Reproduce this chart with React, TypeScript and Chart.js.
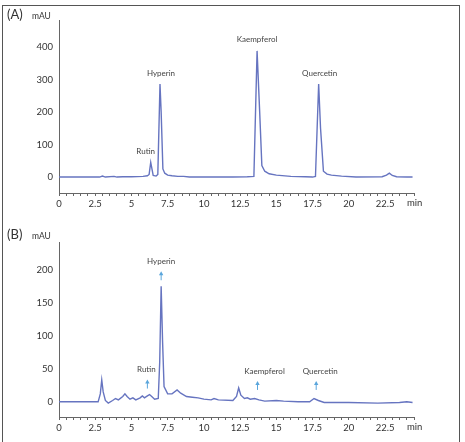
import React, { useEffect, useRef } from "react";
import { Chart, registerables } from "chart.js";
Chart.register(...registerables);

// ---- Data (retention time in min, absorbance in mAU) ----
const timesA = [0, 2.8, 3.0, 3.2, 3.8, 4.0, 4.4, 5.0, 5.8, 6.1, 6.22, 6.33, 6.5, 6.7, 6.82, 6.97, 7.05, 7.17, 7.3, 7.5, 7.8, 8.2, 8.6, 9.0, 10.0, 12.0, 13.0, 13.45, 13.67, 13.85, 14.0, 14.2, 14.5, 15.0, 16.0, 17.0, 17.5, 17.7, 17.92, 18.05, 18.25, 18.5, 18.8, 19.5, 20.5, 22.3, 22.6, 22.8, 23.0, 23.3, 24.0, 24.4];
const signalA = [0, 0, 3, 0, 2, 0, 1, 1, 2, 4, 8, 45, 5, 3, 8, 286, 200, 25, 12, 6, 4, 2, 2, 0, 0, 0, 1, 2, 388, 200, 35, 18, 10, 6, 2, 1, 0, 2, 286, 150, 18, 9, 6, 3, 0, 1, 6, 12, 5, 1, 0, 0];

const timesB = [0, 2.7, 2.85, 2.95, 3.05, 3.2, 3.4, 3.7, 3.9, 4.1, 4.4, 4.55, 4.7, 4.9, 5.1, 5.3, 5.6, 5.75, 5.9, 6.1, 6.25, 6.4, 6.6, 6.85, 6.95, 7.05, 7.15, 7.25, 7.5, 7.8, 8.15, 8.4, 8.8, 9.2, 9.6, 10.0, 10.5, 10.7, 11.0, 12.0, 12.25, 12.4, 12.55, 12.8, 13.0, 13.2, 13.5, 13.8, 14.2, 15.0, 15.5, 16.5, 17.3, 17.6, 17.9, 18.3, 20.0, 22.0, 23.5, 24.0, 24.4];
const signalB = [0, 0, 12, 33, 15, 2, -2, 2, 5, 3, 8, 12, 8, 4, 6, 3, 6, 9, 6, 9, 11, 8, 4, 5, 60, 175, 90, 23, 12, 12, 18, 13, 8, 7, 6, 4, 3, 5, 3, 2, 8, 21, 10, 5, 6, 4, 5, 3, 1, 2, 1, 0, 0, 5, 2, -1, -1, -2, -1, 0, -1];

const peakNames = ["Rutin", "Hyperin", "Kaempferol", "Quercetin"];
const peakTimesA = [6.33, 6.97, 13.67, 17.92];
const peakTimesB = [6.1, 7.05, 13.7, 17.75];

const xMajorTicks = [0, 2.5, 5, 7.5, 10, 12.5, 15, 17.5, 20, 22.5];
const yTicksA = [0, 100, 200, 300, 400];
const yTicksB = [0, 50, 100, 150, 200];

const FONT = "Lato, 'Open Sans', sans-serif";
const LINE = "#6674c0";
const ARROW = "#5aa6dc";
const TEXT = "#333";

type PanelProps = {
  top: number;
  height: number;
  padTop: number;
  xAxisHeight: number;
  times: number[];
  signal: number[];
  yMin: number;
  yMax: number;
  yTicks: number[];
  panelLabel: string;
  peakTimes: number[];
  arrows: boolean;
  labelShift: number[];
};

function peakValue(times: number[], signal: number[], t: number) {
  let m = -Infinity;
  times.forEach((x, i) => {
    if (Math.abs(x - t) <= 0.2 && signal[i] > m) m = signal[i];
  });
  return m;
}

function Panel(p: PanelProps) {
  const ref = useRef<HTMLCanvasElement | null>(null);
  useEffect(() => {
    const canvas = ref.current!;
    const annot = {
      id: "annot",
      afterDatasetsDraw(chart: any) {
        const ctx = chart.ctx;
        const xs = chart.scales.x;
        const ys = chart.scales.y;
        const area = chart.chartArea;
        ctx.save();
        ctx.fillStyle = TEXT;
        ctx.textBaseline = "middle";
        ctx.textAlign = "left";
        ctx.font = `13px ${FONT}`;
        ctx.fillText(p.panelLabel, 7, 15);
        ctx.font = `8.5px ${FONT}`;
        ctx.fillText("mAU", 32, 16);
        ctx.font = `9.5px ${FONT}`;
        ctx.fillText("min", area.right - 7, area.bottom + 10);
        ctx.font = `8px ${FONT}`;
        ctx.textAlign = "center";
        p.peakTimes.forEach((t, i) => {
          const px = xs.getPixelForValue(t);
          const pv = peakValue(p.times, p.signal, t);
          const py = ys.getPixelForValue(pv);
          if (!p.arrows) {
            ctx.fillStyle = "#444";
            ctx.fillText(peakNames[i], px + p.labelShift[i], py - 11);
          } else {
            const bottom = Math.min(py - 6, ys.getPixelForValue(18));
            const tip = bottom - 9;
            ctx.strokeStyle = ARROW;
            ctx.lineWidth = 1;
            ctx.beginPath();
            ctx.moveTo(px, bottom);
            ctx.lineTo(px, tip + 3);
            ctx.stroke();
            ctx.fillStyle = ARROW;
            ctx.beginPath();
            ctx.moveTo(px, tip);
            ctx.lineTo(px - 2.2, tip + 4);
            ctx.lineTo(px + 2.2, tip + 4);
            ctx.closePath();
            ctx.fill();
            ctx.fillStyle = "#444";
            ctx.fillText(peakNames[i], px + p.labelShift[i], tip - 10);
          }
        });
        ctx.restore();
      },
    };
    const chart = new Chart(canvas, {
      type: "line",
      data: {
        datasets: [
          {
            data: p.times.map((t, i) => ({ x: t, y: p.signal[i] })),
            borderColor: LINE,
            borderWidth: 1.4,
            pointRadius: 0,
            tension: 0,
            fill: false,
          },
        ],
      },
      options: {
        animation: false,
        responsive: false,
        devicePixelRatio: 1,
        layout: { padding: { left: 0, right: 51, top: p.padTop, bottom: 0 } },
        plugins: { legend: { display: false }, tooltip: { enabled: false } },
        scales: {
          x: {
            type: "linear",
            min: 0,
            max: 24.5,
            afterBuildTicks: (s: any) => {
              const arr = [];
              for (let k = 0; k <= 49; k++) arr.push({ value: k * 0.5 });
              s.ticks = arr;
            },
            afterFit: (s: any) => {
              s.height = p.xAxisHeight;
            },
            ticks: {
              autoSkip: false,
              maxRotation: 0,
              padding: 2,
              color: TEXT,
              font: { family: FONT, size: 9.5 },
              callback: (v: any) => (xMajorTicks.includes(Number(v)) ? String(v) : ""),
            },
            grid: { drawOnChartArea: false, drawTicks: true, tickLength: 3, color: "#666" },
            border: { color: "#666", width: 1 },
          },
          y: {
            type: "linear",
            min: p.yMin,
            max: p.yMax,
            afterBuildTicks: (s: any) => {
              s.ticks = p.yTicks.map((v) => ({ value: v }));
            },
            afterFit: (s: any) => {
              s.width = 59;
            },
            ticks: {
              padding: 6,
              color: TEXT,
              font: { family: FONT, size: 9.5 },
            },
            grid: { drawOnChartArea: false, drawTicks: false },
            border: { color: "#666", width: 1 },
          },
        },
      },
      plugins: [annot],
    } as any);
    return () => chart.destroy();
  }, []);
  return (
    <canvas
      ref={ref}
      width={465}
      height={p.height}
      style={{ position: "absolute", left: 0, top: p.top, width: 465, height: p.height, display: "block" }}
    />
  );
}

export default function App() {
  return (
    <div
      style={{
        position: "absolute",
        left: 0,
        top: 0,
        width: 465,
        height: 442,
        overflow: "hidden",
        background: "#fff",
      }}
    >
      <Panel
        top={0}
        height={220}
        padTop={20}
        xAxisHeight={27}
        times={timesA}
        signal={signalA}
        yMin={-49}
        yMax={483}
        yTicks={yTicksA}
        panelLabel="(A)"
        peakTimes={peakTimesA}
        arrows={false}
        labelShift={[-5, 1, 0, 1]}
      />
      <Panel
        top={220}
        height={222}
        padTop={22}
        xAxisHeight={25}
        times={timesB}
        signal={signalB}
        yMin={-23}
        yMax={242}
        yTicks={yTicksB}
        panelLabel="(B)"
        peakTimes={peakTimesB}
        arrows={true}
        labelShift={[-1, 0, 7, 4]}
      />
      <div
        style={{
          position: "absolute",
          left: 2,
          top: 5,
          width: 456,
          height: 480,
          borderLeft: "1.5px solid #555",
          borderTop: "1.5px solid #555",
          borderRight: "1.5px solid #555",
          pointerEvents: "none",
        }}
      />
    </div>
  );
}
